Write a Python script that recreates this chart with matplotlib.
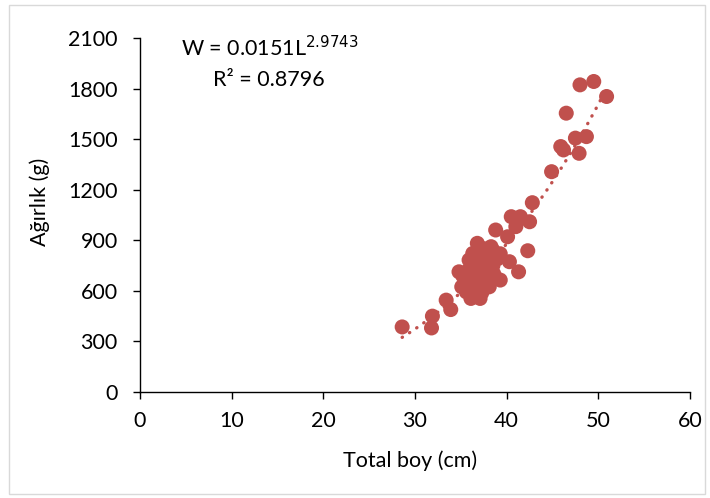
import numpy as np
import matplotlib
matplotlib.use("Agg")
import matplotlib.pyplot as plt
from matplotlib.patches import Rectangle

plt.rcParams['font.family'] = ['Lato', 'DejaVu Sans']

# data
length_cm = [28.6, 31.9, 31.8, 33.4, 33.9, 34.8, 35.1, 35.6, 36.1, 37.1,
             36.8, 35.9, 36.3, 38.3, 38.8, 39.1, 38.1, 39.3, 40.3, 41.3,
             42.3, 38.8, 40.1, 40.5, 41.5, 41.0, 42.5, 42.8, 44.9, 45.9,
             46.2, 46.5, 47.5, 47.9, 48.7, 48.0, 49.5, 50.9,
             36.5, 37.0, 37.5, 36.0, 37.2, 38.0, 37.8, 36.8, 35.5, 35.2,
             37.0, 38.5, 36.2, 37.6, 38.2, 35.8, 36.6, 37.3, 38.6, 39.3, 38.0,
             38.5, 39.0, 37.5, 38.0, 36.5, 37.8, 38.4, 36.9]
weight_g = [386, 450, 380, 545, 489, 713, 624, 594, 555, 555,
            882, 783, 822, 862, 822, 802, 624, 664, 773, 713,
            838, 961, 921, 1040, 1040, 981, 1010, 1123, 1307, 1456,
            1436, 1654, 1506, 1416, 1515, 1822, 1842, 1753,
            700, 650, 720, 680, 760, 700, 780, 600, 650, 690,
            800, 750, 740, 680, 820, 720, 620, 590, 700, 820, 640,
            840, 790, 850, 760, 760, 740, 690, 720]
fit_a = 0.0151
fit_b = 2.9743
fit_label = r"W = 0.0151L$^{2.9743}$"
r2_label = "R² = 0.8796"
x_ticks = [0, 10, 20, 30, 40, 50, 60]
y_ticks = [0, 300, 600, 900, 1200, 1500, 1800, 2100]
xlabel = "Total boy (cm)"
ylabel = "Ağırlık (g)"

color = "#C0504D"
fs = 15.5

fig = plt.figure(figsize=(7.10, 4.98), dpi=100)
ax = fig.add_axes([140/710, 1-392/498, 550/710, 354/498])

ax.scatter(length_cm, weight_g, s=117, color=color, edgecolors='none', zorder=3)

xf = np.linspace(min(length_cm), max(length_cm), 200)
yf = fit_a * xf ** fit_b
ax.plot(xf, yf, linestyle=(0, (0.1, 2.5)), color=color, linewidth=2.4,
        dash_capstyle='round', zorder=4)

ax.set_xlim(0, 60)
ax.set_ylim(0, 2100)
ax.set_xticks(x_ticks)
ax.set_yticks(y_ticks)
ax.spines['top'].set_visible(False)
ax.spines['right'].set_visible(False)
for s in ['left', 'bottom']:
    ax.spines[s].set_linewidth(1.0)
    ax.spines[s].set_color('black')
ax.tick_params(direction='out', length=5, width=1, labelsize=fs, colors='black')
ax.tick_params(axis='y', pad=11)
ax.tick_params(axis='x', pad=9)

ax.set_xlabel(xlabel, fontsize=fs)
ax.set_ylabel(ylabel, fontsize=fs)
ax.xaxis.label.set_va('center')
ax.xaxis.set_label_coords((410-140)/550, -(461-392)/354)
ax.yaxis.set_label_coords(-(140-40)/550, (392-202)/354)
ax.yaxis.label.set_va('center')

fig.text(270/710, 1-48/498, fit_label, fontsize=fs, ha='center', va='center')
fig.text(269/710, 1-80/498, r2_label, fontsize=fs, ha='center', va='center')

fig.patches.append(Rectangle((9/710, 1-494/498), 696/710, 489/498, transform=fig.transFigure,
                             fill=False, edgecolor='#D9D9D9', linewidth=1.0))

fig.savefig("out.png", dpi=100)
